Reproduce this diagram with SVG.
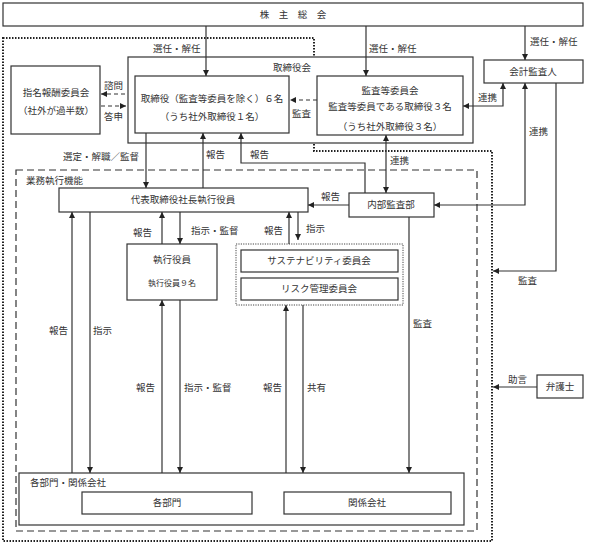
<svg xmlns="http://www.w3.org/2000/svg" width="589" height="544" viewBox="0 0 589 544">
<defs>
<marker id="ah" viewBox="0 0 10 10" refX="10" refY="5" markerWidth="6" markerHeight="6" markerUnits="userSpaceOnUse" orient="auto-start-reverse">
<path d="M0,0 L10,5 L0,10 Z" fill="#222"/>
</marker>
</defs>
<style>
text{font-family:"Noto Sans CJK JP","Noto Sans",sans-serif;font-size:9.5px;fill:#333;}
.c{text-anchor:middle;}
.box{fill:#fff;stroke:#333;stroke-width:1.2;}
.ln{fill:none;stroke:#333;stroke-width:1.2;}
.ar{fill:none;stroke:#333;stroke-width:1.2;marker-end:url(#ah);}
.ar2{fill:none;stroke:#333;stroke-width:1.2;marker-end:url(#ah);marker-start:url(#ah);}
.da{fill:none;stroke:#333;stroke-width:1.2;stroke-dasharray:4 3;marker-end:url(#ah);}
.dot{fill:none;stroke:#222;stroke-width:2;stroke-dasharray:1.5 1.5;}
.dash{fill:none;stroke:#333;stroke-width:1.2;stroke-dasharray:7 4;}
.dot2{fill:none;stroke:#444;stroke-width:1;stroke-dasharray:1.2 1.2;}
</style>
<rect width="589" height="544" fill="#fff"/>

<!-- boundaries -->
<g id="boundaries">
<path class="dot" d="M3,38 H314 V151 H492 V541 H3 Z"/>
<rect class="dash" x="16" y="170" width="461" height="361"/>
<text x="26" y="184">業務執行機能</text>
</g>

<g id="shareholders">
<rect class="box" x="3" y="3" width="580" height="23"/>
<text class="c" x="293" y="18">株　主　総　会</text>
</g>

<g id="board">
<rect class="box" x="128" y="57" width="345" height="86"/>
<text x="311" y="71" style="text-anchor:end">取締役会</text>
</g>

<g id="directors">
<rect class="box" x="135" y="76" width="154" height="57"/>
<text class="c" x="212" y="102">取締役（監査等委員を除く）６名</text>
<text class="c" x="212" y="120">（うち社外取締役１名）</text>
</g>

<g id="audit-committee">
<rect class="box" x="317" y="76" width="146" height="59"/>
<text class="c" x="390" y="94">監査等委員会</text>
<text class="c" x="390" y="110">監査等委員である取締役３名</text>
<text class="c" x="390" y="130">（うち社外取締役３名）</text>
</g>

<g id="accounting-auditor">
<rect class="box" x="484" y="60" width="99" height="23"/>
<text class="c" x="533" y="75">会計監査人</text>
</g>

<g id="nomination">
<rect class="box" x="11" y="66" width="89" height="68"/>
<text class="c" x="56" y="96">指名報酬委員会</text>
<text class="c" x="56" y="114">（社外が過半数）</text>
</g>

<g id="president">
<rect class="box" x="59" y="188" width="249" height="24"/>
<text class="c" x="183" y="203">代表取締役社長執行役員</text>
</g>

<g id="internal-audit">
<rect class="box" x="349" y="193" width="85" height="24"/>
<text class="c" x="391" y="208">内部監査部</text>
</g>

<g id="executives">
<rect class="box" x="127" y="244" width="90" height="56"/>
<text class="c" x="172" y="263">執行役員</text>
<text class="c" x="172" y="286" style="font-size:8px">執行役員９名</text>
</g>

<g id="committees">
<rect class="dot2" x="236" y="244" width="167" height="61"/>
<rect class="box" x="241" y="250" width="157" height="22"/>
<text class="c" x="319" y="264">サステナビリティ委員会</text>
<rect class="box" x="241" y="278" width="157" height="22"/>
<text class="c" x="319" y="292">リスク管理委員会</text>
</g>

<g id="departments">
<rect class="box" x="19" y="473" width="445" height="52"/>
<text x="30" y="486">各部門・関係会社</text>
<rect class="box" x="82" y="492" width="170" height="22"/>
<text class="c" x="167" y="506">各部門</text>
<rect class="box" x="284" y="492" width="167" height="22"/>
<text class="c" x="367" y="506">関係会社</text>
</g>

<g id="lawyer">
<rect class="box" x="537" y="375" width="46" height="23"/>
<text class="c" x="560" y="390">弁護士</text>
</g>

<g id="connectors">
<!-- shareholders -->
<path class="ar" d="M206,26 V76"/>
<text x="153" y="52">選任・解任</text>
<path class="ar" d="M366,26 V76"/>
<text x="369" y="52">選任・解任</text>
<path class="ar" d="M525,26 V60"/>
<text x="530" y="45">選任・解任</text>
<!-- nomination -->
<path class="da" d="M125,94 H101"/>
<text x="104" y="89">諮問</text>
<path class="da" d="M101,106 H126"/>
<text x="104" y="120">答申</text>
<!-- audit committee audits directors -->
<path class="da" d="M317,100 H290"/>
<text x="292" y="117">監査</text>
<!-- renkei audit committee - accounting auditor -->
<path class="ar2" d="M463,106 H503 V83"/>
<text x="478" y="101">連携</text>
<!-- accounting auditor - internal audit -->
<path class="ar2" d="M525,83 V205 H434"/>
<text x="529" y="135">連携</text>
<!-- accounting auditor audit -->
<path class="ar" d="M556,83 V271 H493"/>
<text x="518" y="284">監査</text>
<!-- audit committee - internal audit -->
<path class="ar2" d="M386,135 V193"/>
<text x="390" y="164">連携</text>
<!-- internal audit report to president -->
<path class="ar" d="M349,205 H308"/>
<text x="321" y="200">報告</text>
<!-- internal audit report to directors -->
<path class="ar" d="M365,193 V163 H241 V133"/>
<text x="250" y="158">報告</text>
<!-- president report to directors -->
<path class="ar" d="M203,188 V133"/>
<text x="206" y="158">報告</text>
<!-- directors select president -->
<path class="ar" d="M146,133 V188"/>
<text x="63" y="160">選定・解職／監督</text>
<!-- president <-> departments -->
<path class="ar" d="M72,473 V212"/>
<text x="49" y="334">報告</text>
<path class="ar" d="M90,212 V473"/>
<text x="93" y="334">指示</text>
<!-- president <-> executives -->
<path class="ar" d="M162,244 V212"/>
<text x="133" y="236">報告</text>
<path class="ar" d="M180,212 V244"/>
<text x="191" y="234">指示・監督</text>
<!-- president <-> committees -->
<path class="ar" d="M289,244 V212"/>
<text x="264" y="234">報告</text>
<path class="ar" d="M298,212 V240"/>
<text x="306" y="232">指示</text>
<!-- executives <-> departments -->
<path class="ar" d="M162,473 V300"/>
<text x="136" y="391">報告</text>
<path class="ar" d="M180,300 V473"/>
<text x="184" y="391">指示・監督</text>
<!-- committees <-> departments -->
<path class="ar" d="M286,473 V305"/>
<text x="263" y="391">報告</text>
<path class="ar" d="M303,305 V473"/>
<text x="307" y="391">共有</text>
<!-- internal audit to departments -->
<path class="ar" d="M409,217 V473"/>
<text x="413" y="327">監査</text>
<!-- lawyer advice -->
<path class="ar" d="M537,387 H493"/>
<text x="508" y="383">助言</text>
</g>
</svg>
